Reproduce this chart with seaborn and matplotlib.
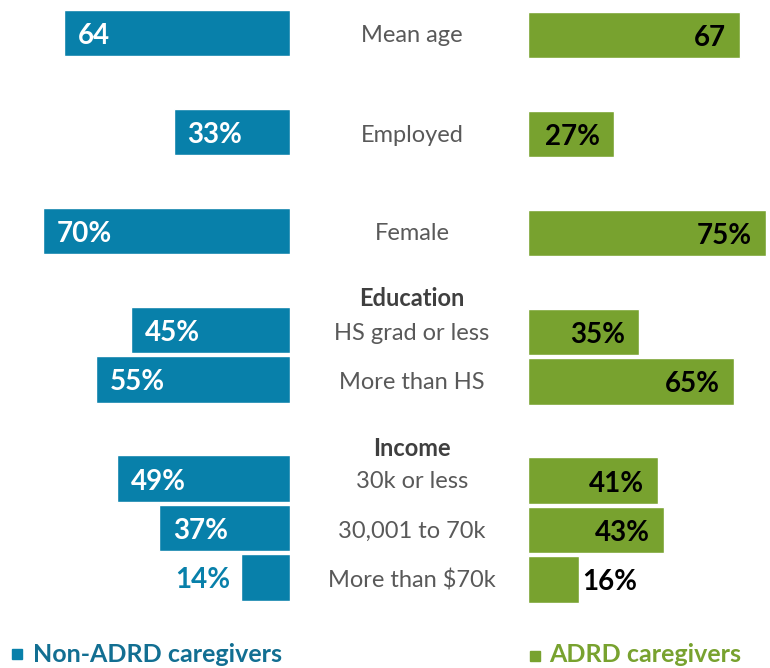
import matplotlib
matplotlib.use("Agg")
import matplotlib.pyplot as plt
import seaborn as sns
import pandas as pd
from matplotlib.patches import Rectangle

# ---- data ----
categories = ["Mean age", "Employed", "Female", "HS grad or less", "More than HS",
              "30k or less", "30,001 to 70k", "More than $70k"]
non_adrd = [64, 33, 70, 45, 55, 49, 37, 14]
adrd = [67, 27, 75, 35, 65, 41, 43, 16]
labels_non = ["64", "33%", "70%", "45%", "55%", "49%", "37%", "14%"]
labels_adrd = ["67", "27%", "75%", "35%", "65%", "41%", "43%", "16%"]
group_headers = ["Education", "Income"]
series_names = ["Non-ADRD caregivers", "ADRD caregivers"]

# ---- layout ----
row_pos = [0, 2, 4, 6, 7, 9, 10, 11]
header_pos = [5.30, 8.33]
W, H = 770, 668
ROW = 49.5
BLUE = "#0880aa"
GREEN = "#78a22f"
BLUE_TXT = "#126f92"
GRAY = "#595959"
VFS = 20      # value label size
CFS = 17      # category label size

sns.set_theme(style="white")
plt.rcParams["font.family"] = ["Lato", "DejaVu Sans"]

fig = plt.figure(figsize=(W / 100, H / 100), dpi=100)

df_l = pd.DataFrame({"pos": row_pos, "val": non_adrd})
df_r = pd.DataFrame({"pos": row_pos, "val": adrd})

# left axis (bars grow leftwards)
axl = fig.add_axes([0, 0, 290 / W, 1])
sns.barplot(data=df_l, x="val", y="pos", orient="h", native_scale=True,
            color=BLUE, saturation=1, width=0.93, ax=axl)
axl.set_xlim(290 / 3.53, 0)
axl.set_ylim((H - 33) / ROW, -33 / ROW)
axl.axis("off")
for p, v, t in zip(row_pos, non_adrd, labels_non):
    if v >= 20:
        axl.annotate(t, (v, p), xytext=(14, -3), textcoords="offset pixels",
                     ha="left", va="center", color="white", fontsize=VFS,
                     fontweight="bold")
    else:
        axl.annotate(t, (v, p), xytext=(-10, -3), textcoords="offset pixels",
                     ha="right", va="center", color=BLUE, fontsize=VFS,
                     fontweight="bold")

# right axis
axr = fig.add_axes([528 / W, 0, 242 / W, 1])
sns.barplot(data=df_r, x="val", y="pos", orient="h", native_scale=True,
            color=GREEN, saturation=1, width=0.93, ax=axr)
axr.set_xlim(0, 242 / 3.17)
axr.set_ylim((H - 35) / ROW, -35 / ROW)
axr.axis("off")
for p, v, t in zip(row_pos, adrd, labels_adrd):
    if v >= 20:
        axr.annotate(t, (v, p), xytext=(-14, -3), textcoords="offset pixels",
                     ha="right", va="center", color="black", fontsize=VFS,
                     fontweight="bold")
    else:
        axr.annotate(t, (v, p), xytext=(3, -3), textcoords="offset pixels",
                     ha="left", va="center", color="black", fontsize=VFS,
                     fontweight="bold")

# middle labels
axm = fig.add_axes([290 / W, 0, 238 / W, 1])
axm.set_xlim(0, 1)
axm.set_ylim((H - 36) / ROW, -36 / ROW)
axm.axis("off")
xc = (412 - 290) / 238
for p, c in zip(row_pos, categories):
    axm.text(xc, p, c, ha="center", va="center", color=GRAY, fontsize=CFS)
for p, h in zip(header_pos, group_headers):
    axm.text(xc, p, h, ha="center", va="center", color="#3f3f3f", fontsize=CFS,
             fontweight="bold")

# legend
fig.patches.append(Rectangle((12 / W, 1 - 659 / H), 10 / W, 10 / H,
                             transform=fig.transFigure, color=BLUE))
fig.text(33 / W, 1 - 654 / H, series_names[0], ha="left", va="center",
         color=BLUE_TXT, fontsize=18, fontweight="bold")
fig.patches.append(Rectangle((530 / W, 1 - 661 / H), 10 / W, 10 / H,
                             transform=fig.transFigure, color=GREEN))
fig.text(549 / W, 1 - 655 / H, series_names[1], ha="left", va="center",
         color=GREEN, fontsize=18, fontweight="bold")

fig.savefig("out.png", dpi=100, facecolor="white")
